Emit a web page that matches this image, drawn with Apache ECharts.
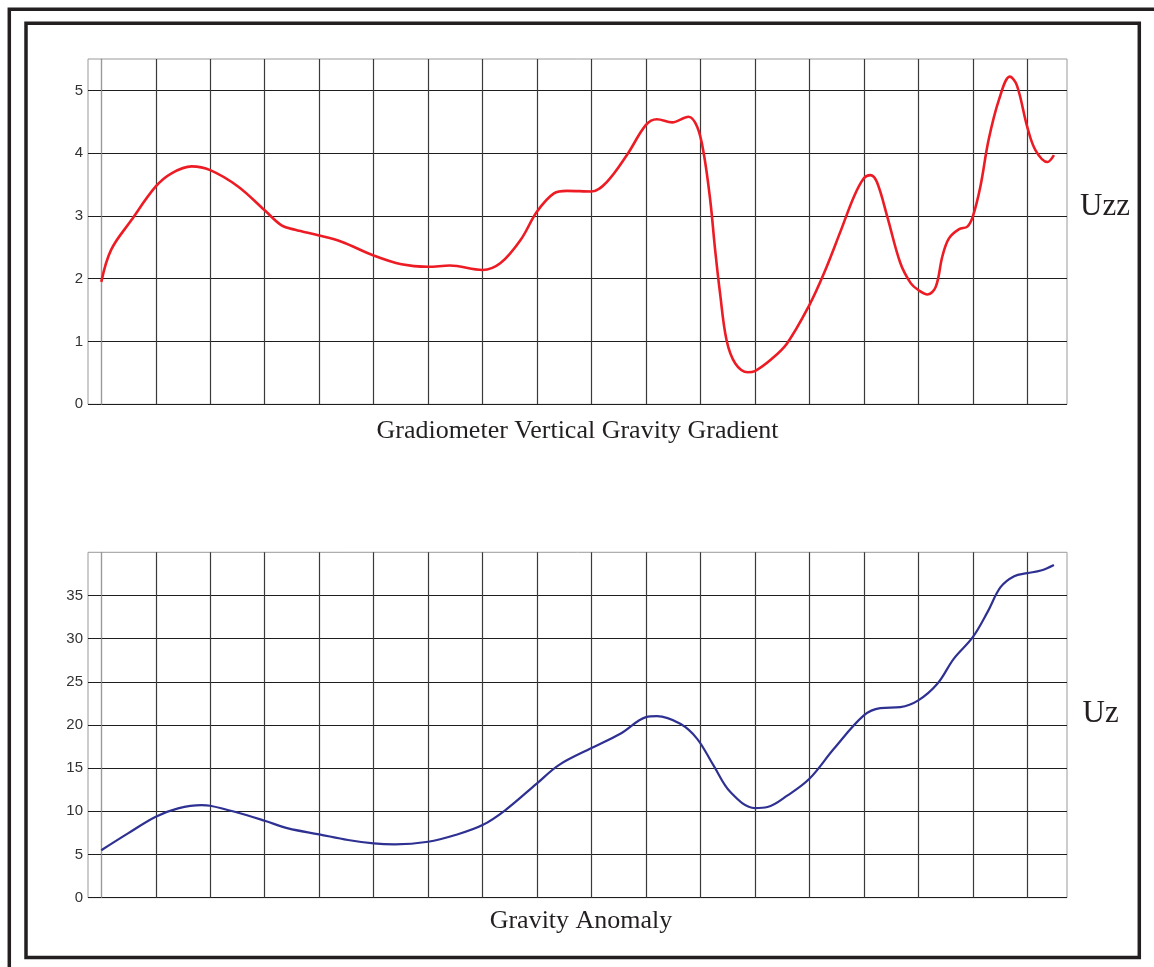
<!DOCTYPE html>
<html>
<head>
<meta charset="utf-8">
<style>
  html, body { margin: 0; padding: 0; background: #ffffff; }
  #chart { width: 1154px; height: 967px; }
</style>
<script src="https://cdn.jsdelivr.net/npm/echarts@6/dist/echarts.min.js"></script>
</head>
<body>
<div id="chart"></div>
<script>
// ---- Data (x in grid-column units, 0 = first vertical line) ----
var uzzX = [0, 0.18, 0.55, 1, 1.29, 1.66, 2, 2.51, 3, 3.31, 3.56, 4, 4.41, 5, 5.51, 6, 6.4, 7, 7.33, 7.7,
            8, 8.31, 8.55, 9, 9.28, 9.65, 10, 10.2, 10.48, 10.78, 10.94, 11.06, 11.18, 11.27, 11.36, 11.48,
            11.64, 11.87, 12, 12.29, 12.59, 13, 13.27, 13.57, 13.82, 14, 14.12, 14.24, 14.43, 14.67, 14.86,
            15, 15.17, 15.32, 15.44, 15.56, 15.75, 15.9, 16, 16.14, 16.29, 16.48, 16.68, 16.81, 17, 17.15,
            17.37, 17.49];
var uzzY = [1.95, 2.46, 2.93, 3.47, 3.68, 3.79, 3.73, 3.47, 3.09, 2.85, 2.78, 2.69, 2.59, 2.37, 2.23, 2.19, 2.21, 2.14, 2.25, 2.62,
            3.07, 3.36, 3.40, 3.39, 3.54, 3.97, 4.45, 4.54, 4.49, 4.58, 4.42, 4.00, 3.25, 2.46, 1.77, 1.02,
            0.65, 0.51, 0.53, 0.71, 0.97, 1.58, 2.09, 2.75, 3.31, 3.60, 3.65, 3.54, 2.99, 2.25, 1.93,
            1.82, 1.75, 1.87, 2.35, 2.64, 2.79, 2.83, 2.99, 3.47, 4.21, 4.85, 5.22, 5.08, 4.42, 4.05,
            3.86, 3.97];

var uzX = [0, 0.49, 1, 1.41, 1.84, 2, 2.45, 3, 3.43, 4, 4.53, 5, 5.39, 6, 6.5, 7, 7.42, 8, 8.4, 9, 9.53,
           10, 10.2, 10.63, 10.94, 11.24, 11.55, 12, 12.23, 12.6, 13, 13.45, 14, 14.3, 14.67, 15, 15.35,
           15.65, 16, 16.27, 16.51, 16.76, 17, 17.25, 17.49];
var uzY = [5.5, 7.45, 9.38, 10.35, 10.73, 10.65, 9.95, 8.91, 8.03, 7.34, 6.68, 6.29, 6.18, 6.48, 7.26, 8.41, 10.15, 13.24, 15.36, 17.33, 18.98,
           20.91, 21.03, 20.14, 18.40, 15.32, 12.23, 10.38, 10.50, 11.85, 13.77, 17.25, 21.11, 21.96, 22.07, 22.85, 24.77,
           27.66, 30.17, 33.07, 35.96, 37.23, 37.58, 37.89, 38.54];

var topTitle = 'Gradiometer Vertical Gravity Gradient';
var bottomTitle = 'Gravity Anomaly';
var topUnit = 'Uzz';
var bottomUnit = 'Uz';

function pairs(xs, ys) { return xs.map(function (x, i) { return [x, ys[i]]; }); }

var chart = echarts.init(document.getElementById('chart'), null, { renderer: 'canvas' });

var dark = '#231f20';
var hLine = { show: true, showMaxLine: false, lineStyle: { color: '#1e1e1e', width: 1.2 } };
var vLine = { show: true, lineStyle: { color: '#3a3a3a', width: 1.2 } };
var labelStyle = { show: true, fontFamily: 'Liberation Sans', fontSize: 15, color: '#333', margin: 5, showMaxLabel: false };

var gTop = 59, gH = 345.3, gTop2 = 552.3, gH2 = 345.4;
var leftA = 88, widthA = 979, leftB = 101.3, widthB = 926;

var option = {
  backgroundColor: '#ffffff',
  animation: false,
  grid: [
    { left: leftA, top: gTop, width: widthA, height: gH, show: true, borderColor: '#9a9a9a', borderWidth: 1 },
    { left: leftB, top: gTop, width: widthB, height: gH },
    { left: leftA, top: gTop2, width: widthA, height: gH2, show: true, borderColor: '#9a9a9a', borderWidth: 1 },
    { left: leftB, top: gTop2, width: widthB, height: gH2 }
  ],
  xAxis: [
    { gridIndex: 0, type: 'value', min: -0.244, max: 17.73, show: false },
    { gridIndex: 1, type: 'value', min: 0, max: 17, interval: 1, axisLine: { show: false }, axisTick: { show: false }, axisLabel: { show: false }, splitLine: vLine },
    { gridIndex: 2, type: 'value', min: -0.244, max: 17.73, show: false },
    { gridIndex: 3, type: 'value', min: 0, max: 17, interval: 1, axisLine: { show: false }, axisTick: { show: false }, axisLabel: { show: false }, splitLine: vLine }
  ],
  yAxis: [
    { gridIndex: 0, type: 'value', min: 0, max: 5.5, interval: 1,
      axisLine: { show: true, lineStyle: { color: '#9a9a9a', width: 1 } },
      axisTick: { show: true, length: 3, lineStyle: { color: '#1e1e1e' } },
      axisLabel: labelStyle, splitLine: hLine },
    { gridIndex: 1, type: 'value', min: 0, max: 1, show: false },
    { gridIndex: 2, type: 'value', min: 0, max: 40, interval: 5,
      axisLine: { show: true, lineStyle: { color: '#9a9a9a', width: 1 } },
      axisTick: { show: true, length: 3, lineStyle: { color: '#1e1e1e' } },
      axisLabel: labelStyle, splitLine: hLine },
    { gridIndex: 3, type: 'value', min: 0, max: 1, show: false }
  ],
  series: [
    { type: 'line', xAxisIndex: 0, yAxisIndex: 0, data: pairs(uzzX, uzzY), smooth: 0.36, showSymbol: false,
      lineStyle: { color: '#ed1c24', width: 2.6 }, z: 5 },
    { type: 'line', xAxisIndex: 2, yAxisIndex: 2, data: pairs(uzX, uzY), smooth: 0.36, showSymbol: false,
      lineStyle: { color: '#2e3192', width: 2.2 }, z: 5 }
  ],
  graphic: [
    { type: 'rect', shape: { x: 9.3, y: 9.3, width: 1300, height: 1100 }, style: { fill: 'none', stroke: dark, lineWidth: 3.5 }, silent: true },
    { type: 'rect', shape: { x: 26, y: 23.3, width: 1113.3, height: 934.2 }, style: { fill: 'none', stroke: dark, lineWidth: 3.5 }, silent: true },
    { type: 'text', x: 577.5, y: 431, style: { text: topTitle, font: '26px "Liberation Serif"', fill: dark, textAlign: 'center', textVerticalAlign: 'middle' } },
    { type: 'text', x: 581, y: 921, style: { text: bottomTitle, font: '26px "Liberation Serif"', fill: dark, textAlign: 'center', textVerticalAlign: 'middle' } },
    { type: 'text', x: 1080, y: 207, style: { text: topUnit, font: '31px "Liberation Serif"', fill: dark, textAlign: 'left', textVerticalAlign: 'middle' } },
    { type: 'text', x: 1082.5, y: 714, style: { text: bottomUnit, font: '31px "Liberation Serif"', fill: dark, textAlign: 'left', textVerticalAlign: 'middle' } }
  ]
};

chart.setOption(option);
</script>
</body>
</html>
